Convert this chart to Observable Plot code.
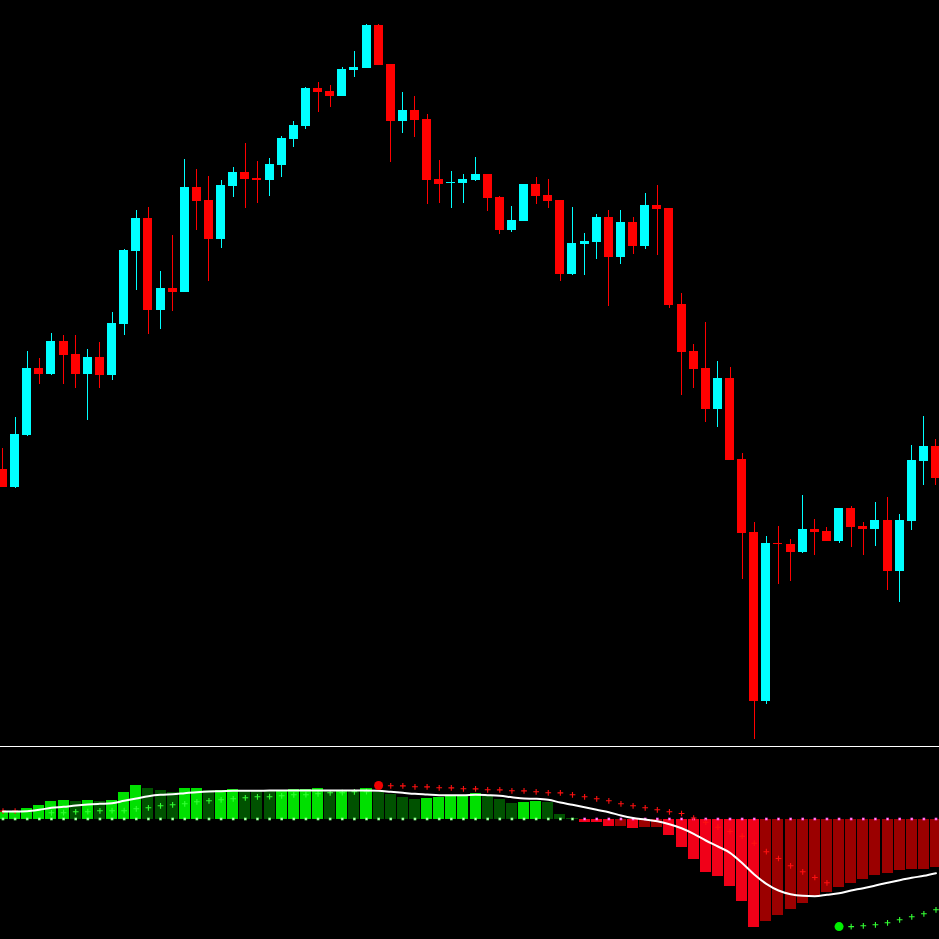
<!DOCTYPE html>
<html>
<head>
<meta charset="utf-8">
<script src="https://cdn.jsdelivr.net/npm/d3@7"></script>
<script src="https://cdn.jsdelivr.net/npm/@observablehq/plot@0.6"></script>
<style>
  html, body { margin: 0; padding: 0; background: #000; overflow: hidden; }
  #chart { width: 939px; height: 939px; background: #000; }
  #chart svg { display: block; }
  #sep { height: 1px; background: #ffffff; }
</style>
</head>
<body>
<div id="chart">
  <div id="upper"></div>
  <div id="sep"></div>
  <div id="lower"></div>
</div>
<script>
// ---- Price candles (points) ----
const open  = [531,513,565,632,626,659,646,626,643,625,676,749,782,690,712,708,813,800,761,814,828,822,820,835,861,874,912,909,904,930,932,975,936,879,890,881,821,817,817,820,826,803,770,779,816,805,800,726,756,758,783,743,778,754,795,792,696,649,632,591,622,541,468,299,457,456,448,471,469,459,492,474,471,480,429,479,539,554];
const high  = [552,583,649,642,667,665,665,651,658,688,751,790,793,729,765,841,831,824,820,833,857,839,842,864,879,913,918,915,933,949,976,976,936,908,904,886,840,829,826,843,826,804,794,816,823,821,800,793,767,786,790,790,783,807,815,792,707,656,678,639,633,547,478,464,474,461,505,481,473,492,494,478,498,503,486,555,584,561];
const low   = [513,512,564,616,625,616,612,580,612,620,665,710,666,671,689,708,770,719,752,803,792,797,804,823,853,871,888,893,904,923,932,935,838,867,863,796,797,792,797,819,789,766,768,779,796,792,719,725,725,741,694,736,746,751,745,692,605,612,578,573,540,421,261,296,416,419,447,445,459,457,453,445,454,410,398,470,515,515];
const close = [513,566,632,626,659,645,626,643,625,677,750,782,690,712,708,813,799,761,815,828,821,820,836,862,875,912,908,904,931,933,975,935,879,890,880,820,816,818,821,826,802,770,780,816,804,799,726,757,759,783,743,778,754,795,791,695,648,631,591,622,540,467,299,457,456,448,471,468,459,492,473,471,480,429,480,540,554,522];

// ---- Lower oscillator ----
const histogram = [6.3,6.6,10.5,13.5,17.5,18.8,17.5,18.6,17.6,18.7,26.5,33.5,30.5,28.5,26.5,30.5,30.7,28.5,28.8,29.5,28.9,28.7,28.5,28.8,29.1,29.5,30.5,28.5,29.0,28.6,30.5,26.5,24.5,21.5,19.5,20.5,21.5,22.5,23.5,25.5,23.5,19.5,15.5,16.5,17.5,16.5,4.5,0.8,-3.4,-3.6,-7.5,-7.3,-9.5,-8.6,-8.4,-16.5,-28.5,-40.5,-53.5,-57.5,-67.5,-82.5,-108.5,-102.5,-96.5,-90.5,-84.5,-78.5,-73.5,-68.5,-64.5,-60.5,-56.5,-54.5,-51.5,-50.5,-50.3,-48.5];
const signal = [7.5,7.5,7.8,9.2,11.2,12.2,13.5,14.5,15.2,15.8,18.2,20.5,22.8,24.2,24.8,25.8,26.8,27.5,27.8,28.2,28.3,28.3,28.4,28.4,28.4,28.5,28.5,28.5,28.5,28.5,28.5,28.2,27.2,26.2,25.2,24.5,23.8,23.8,23.8,24.2,23.8,23.2,21.8,20.5,20.2,19.2,16.5,14.2,11.8,9.2,6.8,3.5,1.0,-0.5,-2.2,-5.2,-9.2,-14.8,-21.5,-27.5,-33.8,-44.0,-55.5,-64.8,-71.5,-75.2,-76.8,-77.2,-75.8,-74.2,-71.5,-69.2,-66.5,-63.8,-61.2,-58.8,-56.8,-54.2];
const sar = [7.9,7.9,null,null,6.2,6.3,7.2,7.3,8.2,8.3,8.3,10.2,11.2,13.2,14.2,15.2,17.2,18.2,19.2,20.2,21.2,22.2,22.3,23.2,24.2,24.3,25.2,26.2,26.3,27.2,27.3,33.5,33.2,33.1,32.2,32.1,31.2,31.1,30.2,30.1,29.2,29.1,28.2,28.1,27.2,26.2,26.1,24.2,22.2,20.2,18.2,15.2,13.2,11.2,9.2,7.2,5.5,1.0,-3.2,-8.2,-12.5,-17.2,-24.2,-32.7,-39.5,-46.8,-52.8,-58.5,-63.8,-107.6,-107.6,-106.8,-105.8,-103.8,-100.8,-97.8,-94.8,-90.8];

// ---- Build tables ----
const candles = open.map((o, i) => ({i, open: o, high: high[i], low: low[i], close: close[i]}));
const osc = histogram.map((v, i) => ({i, value: v, prev: i > 0 ? histogram[i - 1] : null, signal: signal[i]}));
const sarPts = sar.map((v, i) => ({i, value: v, up: v != null && v < signal[i]})).filter(d => d.value != null);
const reversals = sarPts.filter((d, k) => k > 0 && sarPts[k - 1].i === d.i - 1 && sarPts[k - 1].up !== d.up);

const xDomain = [-0.2063, 77.289];
const candleColor = d => d.close >= d.open ? "#00ffff" : "#ff0000";
const barColor = d => {
  const rising = d.prev == null || d.value > d.prev;
  if (d.value >= 0) return rising ? "#00e000" : "#005200";
  return rising ? "#9b0000" : "#f00018";
};

const upper = Plot.plot({
  width: 939, height: 746, margin: 0,
  style: {background: "#000"},
  x: {domain: xDomain, axis: null},
  y: {domain: [254, 1000], axis: null},
  marks: [
    Plot.ruleX(candles, {x: "i", y1: "low", y2: "high", stroke: candleColor, strokeWidth: 1, shapeRendering: "crispEdges"}),
    Plot.rect(candles, {x1: d => d.i - 0.3714, x2: d => d.i + 0.3714, y1: "open", y2: "close", fill: candleColor, shapeRendering: "crispEdges"})
  ]
});
document.getElementById("upper").appendChild(upper);

const lower = Plot.plot({
  width: 939, height: 192, margin: 0,
  style: {background: "#000"},
  x: {domain: xDomain, axis: null},
  y: {domain: [-120.5, 71.5], axis: null},
  marks: [
    Plot.rect(osc, {x1: d => d.i - 0.455, x2: d => d.i + 0.455, y1: d => 0, y2: "value", fill: barColor, shapeRendering: "crispEdges"}),
    Plot.dot(osc, {x: "i", y: d => 0, symbol: "square", r: 1.5, fill: d => d.value >= 0 ? "#7dff7d" : "#ff40e0"}),
    Plot.dot(osc, {x: "i", y: d => 0, symbol: "square", r: 0.6, fill: "#ffffff"}),
    Plot.dot(sarPts, {x: "i", y: "value", symbol: "plus", r: 2, strokeWidth: 1.1, stroke: d => d.up ? "#33ff33" : "#ff1010"}),
    Plot.line(osc, {x: "i", y: "signal", stroke: "#ffffff", strokeWidth: 2, curve: "monotone-x"}),
    Plot.dot(reversals, {x: "i", y: "value", r: 4.5, fill: d => d.up ? "#00f000" : "#f00000"})
  ]
});
document.getElementById("lower").appendChild(lower);
</script>
</body>
</html>
